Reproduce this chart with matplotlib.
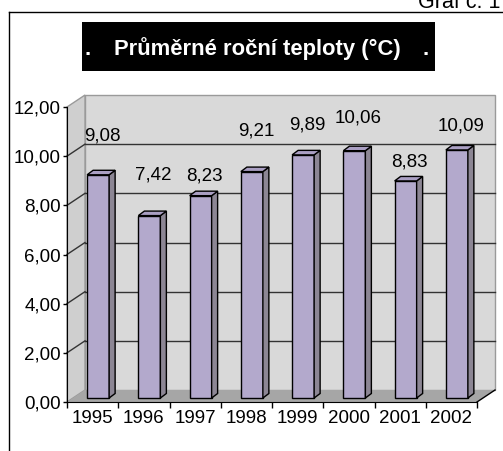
import matplotlib
matplotlib.use('Agg')
import matplotlib.pyplot as plt
from matplotlib.patches import Polygon, Rectangle
from matplotlib.lines import Line2D
from matplotlib.ticker import FuncFormatter, FixedLocator
import numpy as np

plt.rcParams['font.family'] = ['Liberation Sans', 'DejaVu Sans']

years = ['1995', '1996', '1997', '1998', '1999', '2000', '2001', '2002']
temps = [9.08, 7.42, 8.23, 9.21, 9.89, 10.06, 8.83, 10.09]
yticks = [0, 2, 4, 6, 8, 10, 12]

# labels in the original were nudged by hand (pixels above the bar top)
label_lift = [34, 36, 15, 36, 25, 28, 14, 19]

W, H = 503, 451
fig = plt.figure(figsize=(W / 100, H / 100), dpi=100)
fig.patch.set_facecolor('white')

# front plane of the 3d box, in pixels
left, right, top, bottom = 67, 477, 107, 402
ax = fig.add_axes([left / W, (H - bottom) / H, (right - left) / W, (bottom - top) / H])
n = len(years)
ax.set_xlim(-0.5, n - 0.5)
ax.set_ylim(0, 12)
ax.patch.set_visible(False)

ux = n / (right - left)      # data units per pixel
uy = 12 / (bottom - top)
DX, DY = 18 * ux, 12 * uy    # wall depth
ox, oy = 5.5 * ux, 4 * uy    # bar front offset
bdx, bdy = 6 * ux, 4.5 * uy  # bar depth
bw = 22 * ux

x0, x1 = -0.5, n - 0.5
wall = '#d9d9d9'
edge = '#9a9a9a'

# back wall, side wall, floor
ax.add_patch(Polygon([(x0 + DX, DY), (x1 + DX, DY), (x1 + DX, 12 + DY), (x0 + DX, 12 + DY)],
                     closed=True, facecolor=wall, edgecolor=edge, lw=1, clip_on=False, zorder=0))
ax.add_patch(Polygon([(x0, 0), (x0 + DX, DY), (x0 + DX, 12 + DY), (x0, 12)],
                     closed=True, facecolor='#cfcfcf', edgecolor=edge, lw=1, clip_on=False, zorder=0))
ax.add_patch(Polygon([(x0, 0), (x1, 0), (x1 + DX, DY), (x0 + DX, DY)],
                     closed=True, facecolor='#a6a6a6', edgecolor='none', clip_on=False, zorder=0.5))
ax.plot([x1, x1 + DX], [0, DY], color='black', lw=1, clip_on=False, zorder=1)

# gridlines on the back wall and side wall
for yv in yticks[1:-1]:
    ax.plot([x0 + DX, x1 + DX], [yv + DY, yv + DY], color='#333333', lw=1, clip_on=False, zorder=1)
    ax.plot([x0, x0 + DX], [yv, yv + DY], color='#333333', lw=1, clip_on=False, zorder=1)

# bars
xs = np.arange(n)
ax.bar(xs + ox, temps, width=bw, bottom=oy, color='#b3a9cc', edgecolor='black',
       lw=1, zorder=3)
for xi, v in zip(xs, temps):
    xl = xi + ox - bw / 2
    xr = xi + ox + bw / 2
    ax.add_patch(Polygon([(xr, oy), (xr + bdx, oy + bdy), (xr + bdx, oy + v + bdy), (xr, oy + v)],
                         closed=True, facecolor='#8c8694', edgecolor='black', lw=1, zorder=3))
    ax.add_patch(Polygon([(xl, oy + v), (xl + bdx, oy + v + bdy), (xr + bdx, oy + v + bdy), (xr, oy + v)],
                         closed=True, facecolor='#aa9fc3', edgecolor='black', lw=1, zorder=3))

for xi, v, lift in zip(xs, temps, label_lift):
    ax.annotate(f'{v:.2f}'.replace('.', ','), xy=(xi + ox, v + oy), xytext=(4, lift),
                textcoords='offset pixels', ha='center', va='baseline', fontsize=13.5,
                annotation_clip=False, zorder=4)

# axes
for s in ['top', 'right']:
    ax.spines[s].set_visible(False)
ax.spines['left'].set_color('black')
ax.spines['bottom'].set_color('black')
ax.spines['left'].set_zorder(2)
ax.spines['bottom'].set_zorder(2)

ax.yaxis.set_major_locator(FixedLocator(yticks))
ax.yaxis.set_major_formatter(FuncFormatter(lambda v, p: f'{v:.2f}'.replace('.', ',')))
ax.tick_params(axis='y', direction='out', length=3, width=1, pad=1.5, labelsize=13.5)

ax.xaxis.set_major_locator(FixedLocator(np.arange(n + 1) - 0.5))
ax.xaxis.set_minor_locator(FixedLocator(xs))
ax.set_xticklabels([], minor=False)
ax.set_xticklabels(years, minor=True)
ax.tick_params(axis='x', which='major', direction='out', length=4, width=1)
ax.tick_params(axis='x', which='minor', length=0, pad=6, labelsize=13.5)

# title box
fig.patches.append(Rectangle((82 / W, (H - 71) / H), (435 - 82) / W, 49 / H,
                             transform=fig.transFigure, facecolor='black', edgecolor='none'))
fig.text(257 / W, (H - 55) / H, 'Průměrné roční teploty (°C)', color='white',
         fontsize=15.8, fontweight='bold', ha='center', va='baseline')
fig.text(88 / W, (H - 55) / H, '.', color='white', fontsize=15.8, fontweight='bold',
         ha='center', va='baseline')
fig.text(426 / W, (H - 55) / H, '.', color='white', fontsize=15.8, fontweight='bold',
         ha='center', va='baseline')

# outer frame and caption cut off at top right
fig.add_artist(Line2D([9 / W, 9 / W], [0, (H - 12) / H], color='black', lw=1))
fig.add_artist(Line2D([9 / W, 1], [(H - 12) / H, (H - 12) / H], color='black', lw=1))
fig.text(418 / W, (H - 8) / H, 'Graf č. 1', fontsize=15.5, ha='left', va='baseline')

fig.savefig('out.png', dpi=100)
